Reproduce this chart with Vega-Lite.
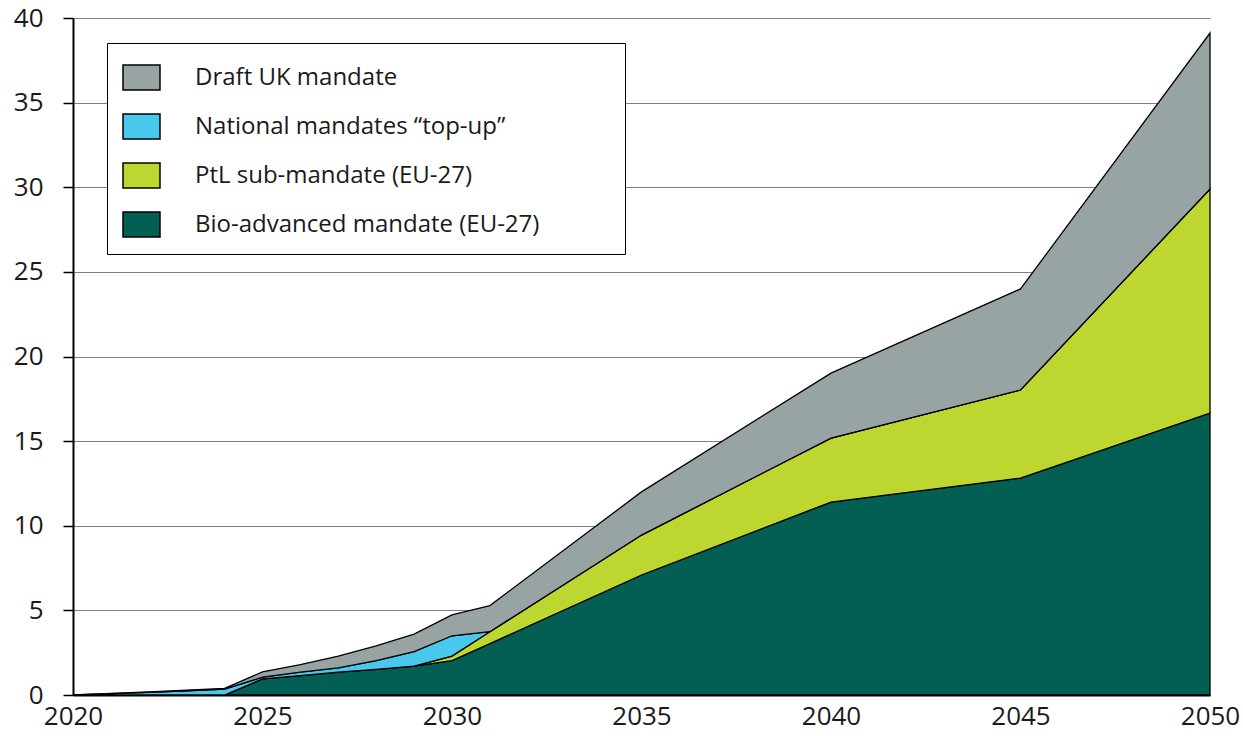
{
  "$schema": "https://vega.github.io/schema/vega-lite/v6.json",
  "width": 1137,
  "height": 677,
  "autosize": "none",
  "padding": {"left": 73, "top": 18, "right": 33, "bottom": 41},
  "background": "#ffffff",
  "config": {"font": "Open Sans", "view": {"stroke": null}},
  "datasets": {
    "stackRank": [
      {"series": "Bio-advanced mandate (EU-27)", "rank": 1},
      {"series": "PtL sub-mandate (EU-27)", "rank": 2},
      {"series": "National mandates “top-up”", "rank": 3},
      {"series": "Draft UK mandate", "rank": 4}
    ]
  },
  "data": {"values": [
    {"year": 2020, "series": "Bio-advanced mandate (EU-27)", "value": 0},
    {"year": 2021, "series": "Bio-advanced mandate (EU-27)", "value": 0},
    {"year": 2022, "series": "Bio-advanced mandate (EU-27)", "value": 0},
    {"year": 2023, "series": "Bio-advanced mandate (EU-27)", "value": 0},
    {"year": 2024, "series": "Bio-advanced mandate (EU-27)", "value": 0},
    {"year": 2025, "series": "Bio-advanced mandate (EU-27)", "value": 0.95},
    {"year": 2026, "series": "Bio-advanced mandate (EU-27)", "value": 1.15},
    {"year": 2027, "series": "Bio-advanced mandate (EU-27)", "value": 1.35},
    {"year": 2028, "series": "Bio-advanced mandate (EU-27)", "value": 1.52},
    {"year": 2029, "series": "Bio-advanced mandate (EU-27)", "value": 1.71},
    {"year": 2030, "series": "Bio-advanced mandate (EU-27)", "value": 2.03},
    {"year": 2031, "series": "Bio-advanced mandate (EU-27)", "value": 3.04},
    {"year": 2035, "series": "Bio-advanced mandate (EU-27)", "value": 7.09},
    {"year": 2040, "series": "Bio-advanced mandate (EU-27)", "value": 11.4},
    {"year": 2045, "series": "Bio-advanced mandate (EU-27)", "value": 12.82},
    {"year": 2050, "series": "Bio-advanced mandate (EU-27)", "value": 16.66},
    {"year": 2020, "series": "PtL sub-mandate (EU-27)", "value": 0},
    {"year": 2021, "series": "PtL sub-mandate (EU-27)", "value": 0},
    {"year": 2022, "series": "PtL sub-mandate (EU-27)", "value": 0},
    {"year": 2023, "series": "PtL sub-mandate (EU-27)", "value": 0},
    {"year": 2024, "series": "PtL sub-mandate (EU-27)", "value": 0},
    {"year": 2025, "series": "PtL sub-mandate (EU-27)", "value": 0},
    {"year": 2026, "series": "PtL sub-mandate (EU-27)", "value": 0},
    {"year": 2027, "series": "PtL sub-mandate (EU-27)", "value": 0},
    {"year": 2028, "series": "PtL sub-mandate (EU-27)", "value": 0},
    {"year": 2029, "series": "PtL sub-mandate (EU-27)", "value": 0},
    {"year": 2030, "series": "PtL sub-mandate (EU-27)", "value": 0.27},
    {"year": 2031, "series": "PtL sub-mandate (EU-27)", "value": 0.70},
    {"year": 2035, "series": "PtL sub-mandate (EU-27)", "value": 2.36},
    {"year": 2040, "series": "PtL sub-mandate (EU-27)", "value": 3.78},
    {"year": 2045, "series": "PtL sub-mandate (EU-27)", "value": 5.2},
    {"year": 2050, "series": "PtL sub-mandate (EU-27)", "value": 13.24},
    {"year": 2020, "series": "National mandates “top-up”", "value": 0},
    {"year": 2021, "series": "National mandates “top-up”", "value": 0.08},
    {"year": 2022, "series": "National mandates “top-up”", "value": 0.16},
    {"year": 2023, "series": "National mandates “top-up”", "value": 0.25},
    {"year": 2024, "series": "National mandates “top-up”", "value": 0.35},
    {"year": 2025, "series": "National mandates “top-up”", "value": 0.10},
    {"year": 2026, "series": "National mandates “top-up”", "value": 0.20},
    {"year": 2027, "series": "National mandates “top-up”", "value": 0.25},
    {"year": 2028, "series": "National mandates “top-up”", "value": 0.51},
    {"year": 2029, "series": "National mandates “top-up”", "value": 0.85},
    {"year": 2030, "series": "National mandates “top-up”", "value": 1.20},
    {"year": 2031, "series": "National mandates “top-up”", "value": 0},
    {"year": 2035, "series": "National mandates “top-up”", "value": 0},
    {"year": 2040, "series": "National mandates “top-up”", "value": 0},
    {"year": 2045, "series": "National mandates “top-up”", "value": 0},
    {"year": 2050, "series": "National mandates “top-up”", "value": 0},
    {"year": 2020, "series": "Draft UK mandate", "value": 0},
    {"year": 2021, "series": "Draft UK mandate", "value": 0.02},
    {"year": 2022, "series": "Draft UK mandate", "value": 0.03},
    {"year": 2023, "series": "Draft UK mandate", "value": 0.03},
    {"year": 2024, "series": "Draft UK mandate", "value": 0.04},
    {"year": 2025, "series": "Draft UK mandate", "value": 0.31},
    {"year": 2026, "series": "Draft UK mandate", "value": 0.45},
    {"year": 2027, "series": "Draft UK mandate", "value": 0.70},
    {"year": 2028, "series": "Draft UK mandate", "value": 0.87},
    {"year": 2029, "series": "Draft UK mandate", "value": 1.04},
    {"year": 2030, "series": "Draft UK mandate", "value": 1.23},
    {"year": 2031, "series": "Draft UK mandate", "value": 1.54},
    {"year": 2035, "series": "Draft UK mandate", "value": 2.55},
    {"year": 2040, "series": "Draft UK mandate", "value": 3.84},
    {"year": 2045, "series": "Draft UK mandate", "value": 5.97},
    {"year": 2050, "series": "Draft UK mandate", "value": 9.21}
  ]},
  "transform": [
    {"lookup": "series", "from": {"data": {"name": "stackRank"}, "key": "series", "fields": ["rank"]}}
  ],
  "mark": {"type": "area", "stroke": "#000000", "strokeWidth": 1.3, "opacity": 1, "strokeJoin": "miter"},
  "encoding": {
    "x": {
      "field": "year",
      "type": "quantitative",
      "scale": {"domain": [2020, 2050], "nice": false, "zero": false},
      "axis": {
        "title": null,
        "values": [2020, 2025, 2030, 2035, 2040, 2045, 2050],
        "format": "d",
        "ticks": false,
        "grid": false,
        "domainColor": "#000000",
        "domainWidth": 2,
        "labelFontSize": 26,
        "labelColor": "#1a1a1a",
        "labelPadding": 8,
        "labelFlush": false,
        "labelOverlap": false
      }
    },
    "y": {
      "field": "value",
      "type": "quantitative",
      "stack": "zero",
      "scale": {"domain": [0, 40], "nice": false},
      "axis": {
        "title": null,
        "values": [0, 5, 10, 15, 20, 25, 30, 35, 40],
        "grid": true,
        "gridColor": "#7f7f7f",
        "gridWidth": 1,
        "domainColor": "#000000",
        "domainWidth": 2,
        "tickColor": "#000000",
        "tickWidth": 1.5,
        "tickSize": 10,
        "labelFontSize": 26,
        "labelColor": "#1a1a1a",
        "labelPadding": 20
      }
    },
    "order": {"field": "rank", "type": "quantitative", "sort": "ascending"},
    "color": {
      "field": "series",
      "type": "nominal",
      "scale": {
        "domain": ["Draft UK mandate", "National mandates “top-up”", "PtL sub-mandate (EU-27)", "Bio-advanced mandate (EU-27)"],
        "range": ["#98a4a4", "#49c8ee", "#bed730", "#035e54"]
      },
      "legend": {
        "title": null,
        "orient": "none",
        "legendX": 34,
        "legendY": 25,
        "symbolType": "M-0.902,-0.61H0.902V0.61H-0.902Z",
        "symbolSize": 1681,
        "symbolStrokeColor": "#000000",
        "symbolStrokeWidth": 1.5,
        "symbolOpacity": 1,
        "labelFontSize": 24,
        "labelColor": "#1a1a1a",
        "labelOffset": 32,
        "labelLimit": 600,
        "rowPadding": 11,
        "padding": 13,
        "strokeColor": "#000000",
        "fillColor": "#ffffff",
        "labelExpr": "datum.label + '\u2800\u2800\u2800\u2800'"
      }
    }
  }
}
